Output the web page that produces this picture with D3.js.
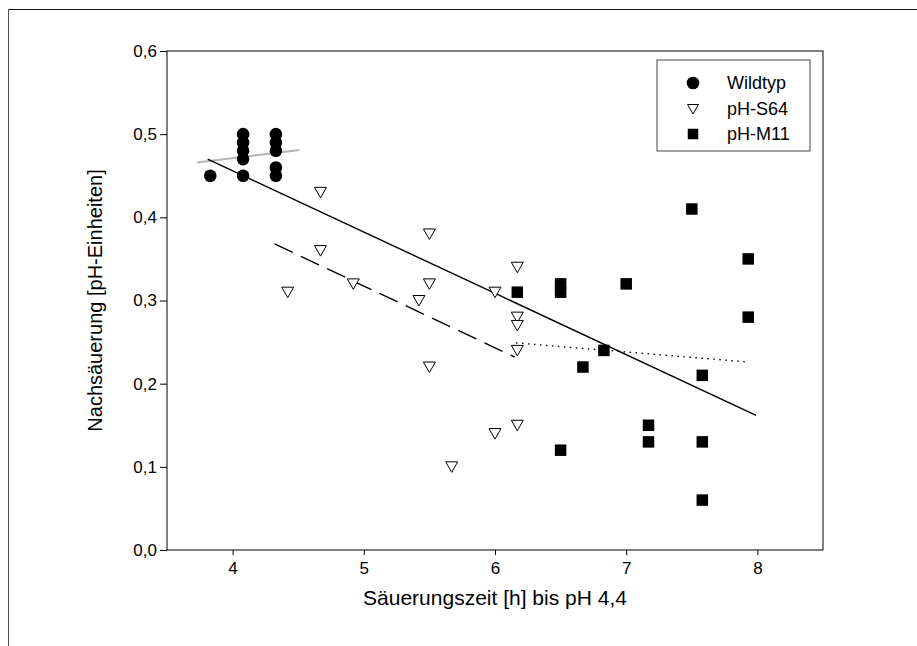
<!DOCTYPE html>
<html>
<head>
<meta charset="utf-8">
<script src="https://cdn.jsdelivr.net/npm/d3@7"></script>
<style>
html,body{margin:0;padding:0;background:#fff;}
svg{display:block;font-family:Arial,"Liberation Sans",sans-serif;}
</style>
</head>
<body>
<svg id="chart" width="917" height="646"></svg>
<script>
// ---- data ----
const xTicks = [4, 5, 6, 7, 8];
const yTicks = [0.0, 0.1, 0.2, 0.3, 0.4, 0.5, 0.6];
const seriesNames = ["Wildtyp", "pH-S64", "pH-M11"];

const wildX = [3.83, 4.08, 4.08, 4.08, 4.08, 4.08, 4.33, 4.33, 4.33, 4.33, 4.33];
const wildY = [0.45, 0.50, 0.49, 0.48, 0.47, 0.45, 0.50, 0.49, 0.48, 0.46, 0.45];

const s64X = [4.42, 4.67, 4.67, 4.92, 5.42, 5.50, 5.50, 5.50, 5.67, 6.00, 6.00, 6.17, 6.17, 6.17, 6.17, 6.17];
const s64Y = [0.31, 0.43, 0.36, 0.32, 0.30, 0.38, 0.32, 0.22, 0.10, 0.31, 0.14, 0.34, 0.28, 0.27, 0.24, 0.15];

const m11X = [6.17, 6.50, 6.50, 6.50, 6.67, 6.83, 7.00, 7.17, 7.17, 7.50, 7.58, 7.58, 7.58, 7.93, 7.93];
const m11Y = [0.31, 0.32, 0.31, 0.12, 0.22, 0.24, 0.32, 0.15, 0.13, 0.41, 0.21, 0.13, 0.06, 0.35, 0.28];

// regression lines (endpoints)
const fitAllX = [3.81, 7.99], fitAllY = [0.470, 0.162];
const fitWildX = [3.73, 4.51], fitWildY = [0.466, 0.481];
const fitS64X = [4.32, 6.15], fitS64Y = [0.368, 0.232];
const fitM11X = [6.16, 7.93], fitM11Y = [0.249, 0.226];

// ---- layout ----
const svg = d3.select("#chart");
const L = 167, R = 823, T = 51, B = 550;
const x = d3.scaleLinear().domain([3.5, 8.5]).range([L, R]);
const y = d3.scaleLinear().domain([0, 0.6]).range([B, T]);
const fmt = d => d3.format(".1f")(d).replace(".", ",");

// outer page frame (top + left lines)
svg.append("line").attr("x1", 8).attr("x2", 917).attr("y1", 9.5).attr("y2", 9.5)
  .attr("stroke", "#111").attr("stroke-width", 1.2);
svg.append("line").attr("x1", 8.5).attr("x2", 8.5).attr("y1", 9).attr("y2", 646)
  .attr("stroke", "#555").attr("stroke-width", 1);

// plot frame
svg.append("rect").attr("x", L).attr("y", T).attr("width", R - L).attr("height", B - T)
  .attr("fill", "none").attr("stroke", "#000").attr("stroke-width", 1);

// axes
const xAxis = svg.append("g").attr("transform", `translate(0,${B})`)
  .call(d3.axisBottom(x).tickValues(xTicks).tickSize(5).tickPadding(7).tickFormat(d3.format("d")));
const yAxis = svg.append("g").attr("transform", `translate(${L},0)`)
  .call(d3.axisLeft(y).tickValues(yTicks).tickSize(7).tickPadding(3).tickFormat(fmt));
[xAxis, yAxis].forEach(g => {
  g.select(".domain").remove();
  g.selectAll(".tick line").attr("stroke", "#000");
  g.selectAll(".tick text").attr("fill", "#000").style("font-size", "17px")
    .style("font-family", "Arial, 'Liberation Sans', sans-serif");
});

// axis titles
svg.append("text").attr("x", (L + R) / 2).attr("y", 605).attr("text-anchor", "middle")
  .style("font-size", "21px").text("Säuerungszeit [h] bis pH 4,4");
svg.append("text").attr("transform", `translate(102,${(T + B) / 2}) rotate(-90)`)
  .attr("text-anchor", "middle").style("font-size", "20px").text("Nachsäuerung [pH-Einheiten]");

// regression lines
const line = d3.line().x(d => x(d[0])).y(d => y(d[1]));
const zip = (a, b) => a.map((v, i) => [v, b[i]]);
svg.append("path").datum(zip(fitWildX, fitWildY)).attr("d", line)
  .attr("fill", "none").attr("stroke", "#b4b4b4").attr("stroke-width", 2);
svg.append("path").datum(zip(fitAllX, fitAllY)).attr("d", line)
  .attr("fill", "none").attr("stroke", "#000").attr("stroke-width", 1.4);
svg.append("path").datum(zip(fitS64X, fitS64Y)).attr("d", line)
  .attr("fill", "none").attr("stroke", "#000").attr("stroke-width", 1.4)
  .attr("stroke-dasharray", "20,9");
svg.append("path").datum(zip(fitM11X, fitM11Y)).attr("d", line)
  .attr("fill", "none").attr("stroke", "#000").attr("stroke-width", 1.4)
  .attr("stroke-dasharray", "1.5,4.5");

// markers
const circleSym = d3.symbol().type(d3.symbolCircle).size(Math.PI * 6.3 * 6.3);
const squareSym = d3.symbol().type(d3.symbolSquare).size(11.5 * 11.5);
const triPath = "M-6,-5L6,-5L0,5.5Z";

svg.append("g").selectAll("path").data(zip(wildX, wildY)).join("path")
  .attr("d", circleSym).attr("transform", d => `translate(${x(d[0])},${y(d[1])})`)
  .attr("fill", "#000");
svg.append("g").selectAll("path").data(zip(s64X, s64Y)).join("path")
  .attr("d", triPath).attr("transform", d => `translate(${x(d[0])},${y(d[1])})`)
  .attr("fill", "#fff").attr("stroke", "#000").attr("stroke-width", 1);
svg.append("g").selectAll("path").data(zip(m11X, m11Y)).join("path")
  .attr("d", squareSym).attr("transform", d => `translate(${x(d[0])},${y(d[1])})`)
  .attr("fill", "#000");

// legend
const lg = svg.append("g");
lg.append("rect").attr("x", 657).attr("y", 60).attr("width", 153).attr("height", 91)
  .attr("fill", "#fff").attr("stroke", "#444").attr("stroke-width", 1);
const legRows = [83, 109, 134];
const legSyms = [
  g => g.append("path").attr("d", circleSym).attr("fill", "#000"),
  g => g.append("path").attr("d", "M-5.5,-4.5L5.5,-4.5L0,5Z").attr("fill", "#fff").attr("stroke", "#000"),
  g => g.append("path").attr("d", d3.symbol().type(d3.symbolSquare).size(110)).attr("fill", "#000")
];
seriesNames.forEach((name, i) => {
  const g = lg.append("g").attr("transform", `translate(693,${legRows[i]})`);
  legSyms[i](g);
  lg.append("text").attr("x", 727).attr("y", legRows[i]).attr("dy", "0.35em")
    .style("font-size", "18px").text(name);
});
</script>
</body>
</html>
